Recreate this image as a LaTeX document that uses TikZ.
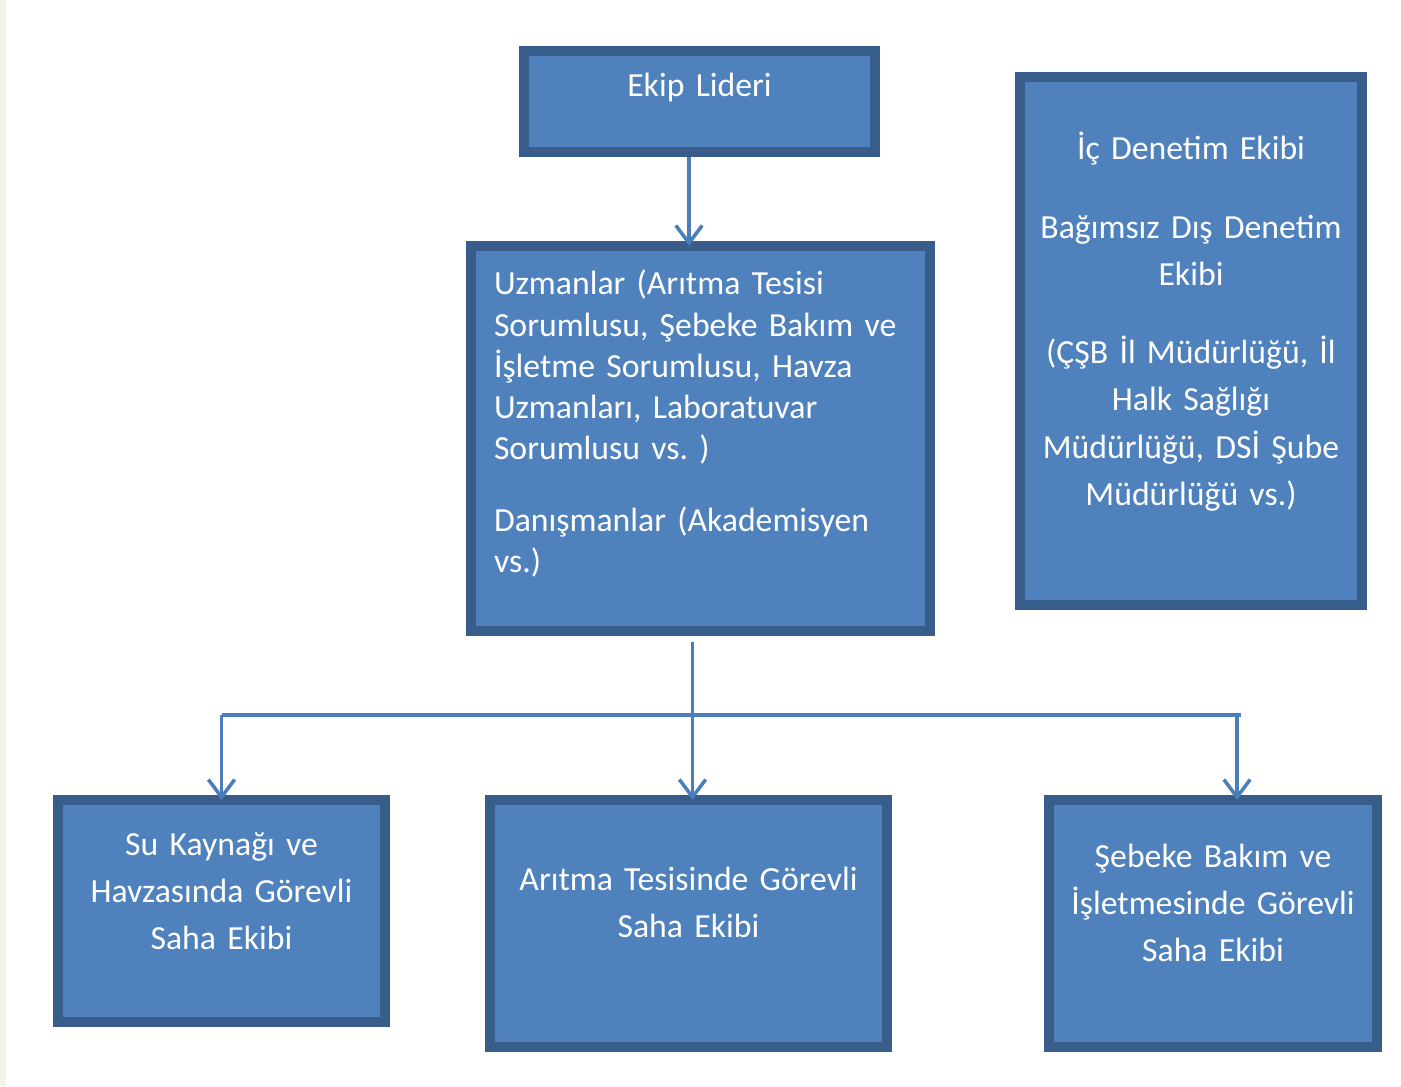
\documentclass[tikz,border=0pt]{standalone}
\usepackage{fontspec}
\setmainfont{Carlito}
\usepackage{tikz}
\usetikzlibrary{arrows.meta}
\definecolor{boxblue}{HTML}{4F81BD}
\definecolor{boxedge}{HTML}{385D8A}
\definecolor{linkblue}{HTML}{4A7EBB}
\definecolor{edgestrip}{HTML}{F3F3E6}
\frenchspacing
\newcommand{\boxfont}[1]{\fontsize{9.6}{#1}\selectfont\spaceskip 0.17em\relax}

\begin{document}
\begin{tikzpicture}[
  teambox/.style={draw=boxedge, fill=boxblue, line width=2.85pt, text=white,
    anchor=north west, outer sep=0pt, inner ysep=0pt, inner xsep=0.1cm,
    align=center, font=\boxfont{13.5}},
  link/.style={draw=linkblue, line width=1pt, -{Straight Barb[length=5pt,width=7.5pt]}},
  bus/.style={draw=linkblue, line width=1pt}
]
\useasboundingbox (0,0) rectangle (14.01,-10.86);
\fill[edgestrip] (0,0) rectangle (0.06,-10.86);

% Team leader
\node[teambox, text width=3.31cm, text height=0.46cm, text depth=0.55cm] (lead) at (5.24,-0.51) {Ekip Lideri};

% Experts and consultants
\node[teambox, align=left, inner xsep=0.23cm, text width=4.13cm, text height=0.49cm, text depth=3.36cm,
  font=\boxfont{11.7}] (expert) at (4.71,-2.46)
  {Uzmanlar (Arıtma Tesisi\\Sorumlusu, Şebeke Bakım ve\\İşletme Sorumlusu, Havza\\Uzmanları, Laboratuvar\\Sorumlusu vs. )\\[8.8pt]
   Danışmanlar (Akademisyen\\vs.)};

% Audit teams
\node[teambox, text width=3.22cm, text height=0.83cm, text depth=4.45cm] (audit) at (10.20,-0.77)
  {İç Denetim Ekibi\\[8.7pt]Bağımsız Dış Denetim\\Ekibi\\[8.7pt](ÇŞB İl Müdürlüğü, İl\\Halk Sağlığı\\Müdürlüğü, DSİ Şube\\Müdürlüğü vs.)};

% Field teams
\node[teambox, text width=3.07cm, text height=0.55cm, text depth=1.67cm] (source) at (0.58,-8.00)
  {Su Kaynağı ve\\Havzasında Görevli\\Saha Ekibi};
\node[teambox, text width=3.77cm, text height=0.90cm, text depth=1.57cm] (plant) at (4.90,-8.00)
  {Arıtma Tesisinde Görevli\\Saha Ekibi};
\node[teambox, text width=3.08cm, text height=0.67cm, text depth=1.80cm] (network) at (10.49,-8.00)
  {Şebeke Bakım ve\\İşletmesinde Görevli\\Saha Ekibi};

% Connectors
\coordinate (busleft) at (2.215,-7.15);
\coordinate (busright) at (12.37,-7.15);
\draw[link] ([xshift=-0.105cm,yshift=-0.05cm]lead.south) -- ([xshift=-0.105cm]lead.south |- expert.north);
\draw[link] ([xshift=-0.08cm,yshift=-0.11cm]expert.south) -- ([xshift=-0.08cm]expert.south |- plant.north);
\draw[bus] (busleft) -- ([xshift=0.04cm]busright);
\draw[link] (busleft) -- (busleft |- source.north);
\draw[link] (busright) -- (busright |- network.north);
\end{tikzpicture}
\end{document}
